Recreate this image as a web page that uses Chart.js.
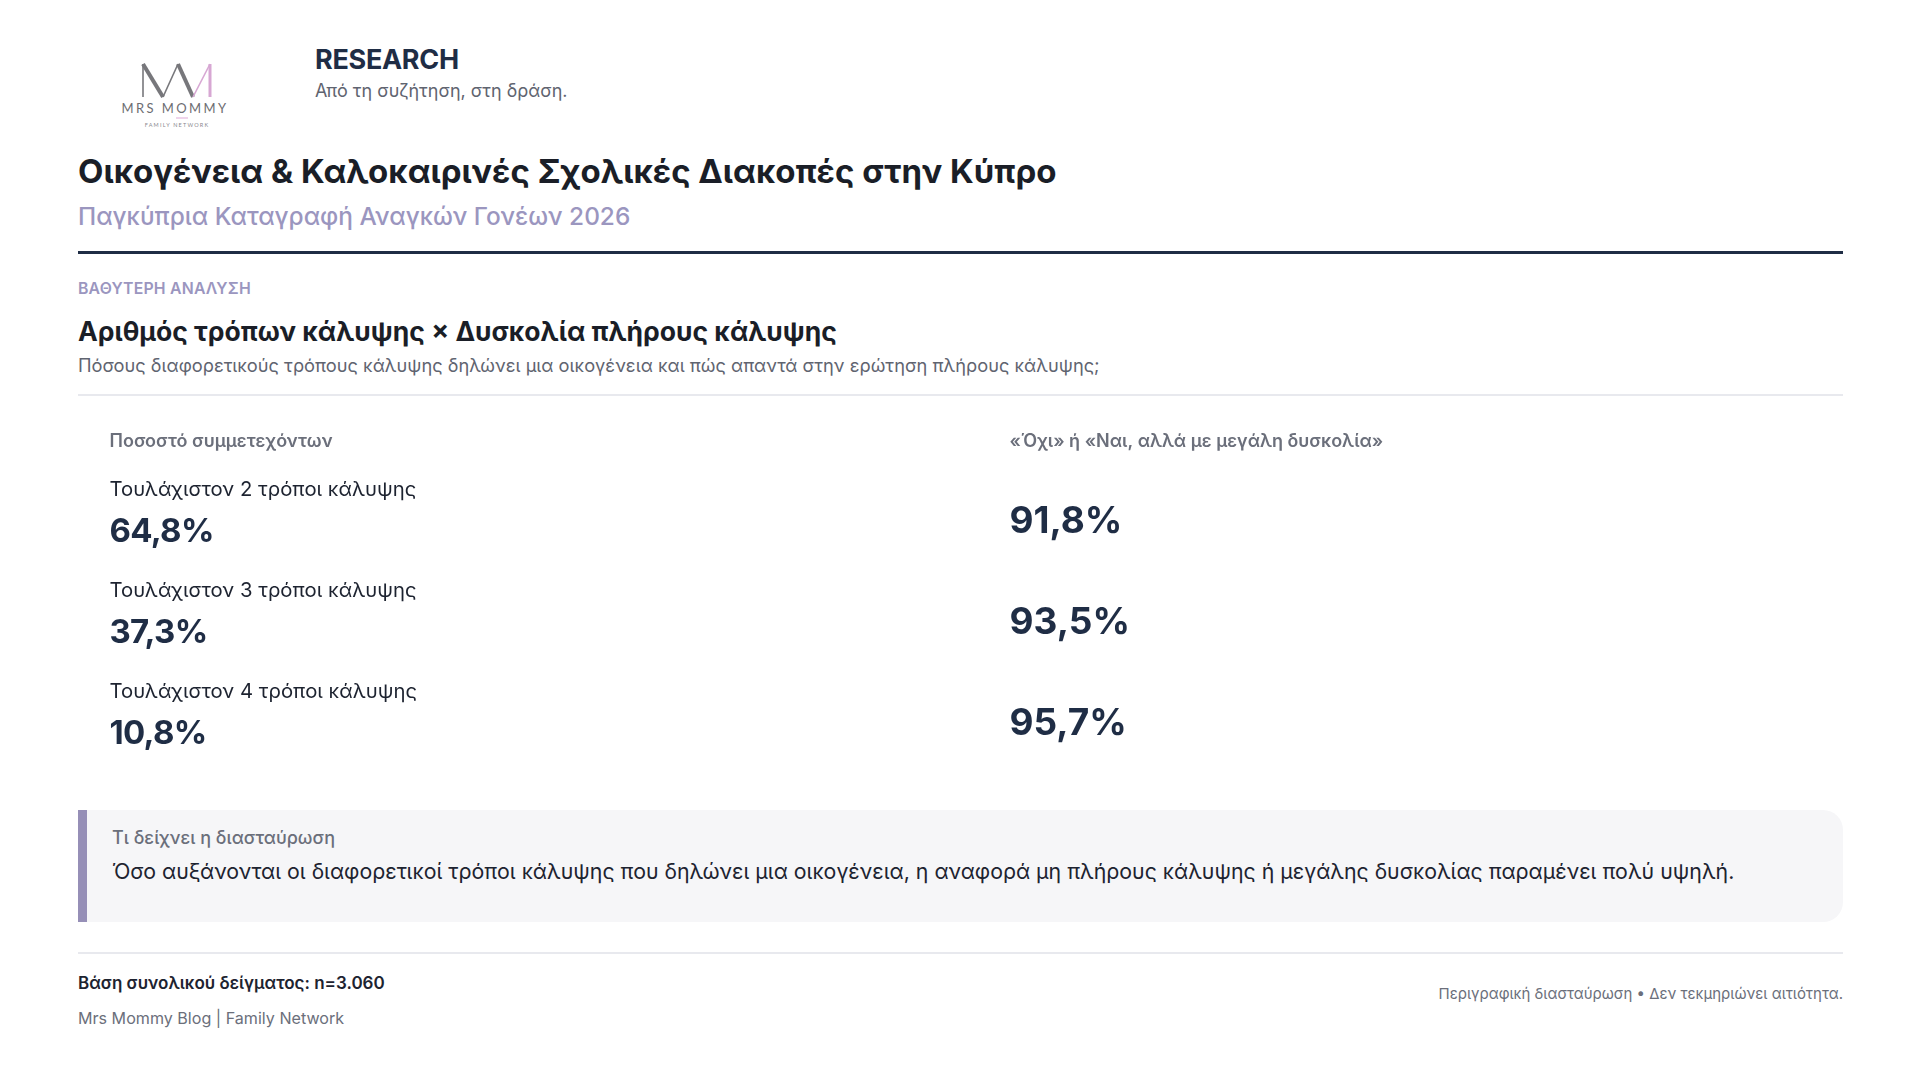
<!DOCTYPE html>
<html lang="el">
<head>
    <meta charset="UTF-8">
    <title>Αριθμός τρόπων κάλυψης × Δυσκολία πλήρους κάλυψης</title>
    <script src="https://cdn.jsdelivr.net/npm/chart.js"></script>
    <style>
        body {
            margin: 0;
            width: 1920px;
            height: 1080px;
            background: #ffffff;
            font-family: Inter, "Noto Sans", sans-serif;
            position: relative;
            overflow: hidden;
        }
        .abs {
            position: absolute;
            line-height: 1;
            white-space: nowrap;
        }
        .logo {
            position: absolute;
            left: 100px;
            top: 50px;
        }
        .brand {
            left: 315px;
            top: 46px;
            font-size: 27px;
            font-weight: 700;
            color: #1f2d45;
            letter-spacing: -0.3px;
        }
        .tagline {
            left: 315px;
            top: 81.5px;
            font-size: 18px;
            color: #5f6470;
        }
        .title {
            left: 78px;
            top: 155px;
            font-size: 33px;
            font-weight: 700;
            color: #1a1e27;
        }
        .subtitle {
            left: 78px;
            top: 203.5px;
            font-size: 24.4px;
            font-weight: 500;
            color: #9b96bf;
        }
        .rule {
            position: absolute;
            left: 78px;
            width: 1765px;
        }
        .rule.main { top: 251px; height: 3px; background: #1f2d45; }
        .rule.thin { top: 394px; height: 2px; background: #e8e9ee; }
        .rule.foot { top: 952px; height: 2px; background: #e8e9ee; }
        .kicker {
            left: 78px;
            top: 280.5px;
            font-size: 15.8px;
            font-weight: 600;
            color: #9b96bf;
            letter-spacing: 0.2px;
        }
        .heading {
            left: 78px;
            top: 317.5px;
            font-size: 26.5px;
            font-weight: 700;
            color: #1a1e27;
        }
        .desc {
            left: 78px;
            top: 356px;
            font-size: 18.25px;
            color: #5f6470;
        }
        .chart-box {
            position: absolute;
            left: 78px;
            top: 400px;
            width: 1842px;
            height: 380px;
        }
        .insight {
            position: absolute;
            left: 78px;
            top: 810px;
            width: 1756px;
            height: 112px;
            background: #f6f6f8;
            border-left: 9px solid #968fb7;
            border-radius: 0 20px 20px 0;
        }
        .insight-label {
            left: 112px;
            top: 828.5px;
            font-size: 18px;
            font-weight: 500;
            color: #6b6f7b;
        }
        .insight-text {
            left: 112px;
            top: 861px;
            font-size: 21.3px;
            color: #1d2330;
        }
        .base {
            left: 78px;
            top: 974.5px;
            font-size: 17px;
            font-weight: 600;
            color: #1d2330;
        }
        .source {
            left: 78px;
            top: 1010px;
            font-size: 16.1px;
            color: #6b6f7b;
        }
        .note {
            right: 77px;
            top: 986px;
            font-size: 15px;
            color: #6b6f7b;
        }
    </style>
</head>
<body>
    <svg class="logo" width="160" height="90" viewBox="0 0 160 90">
        <g fill="none" stroke-linecap="butt">
            <path d="M43 47 V14" stroke="#77777b" stroke-width="1.6"/>
            <path d="M43 14 L63 47" stroke="#77777b" stroke-width="4"/>
            <path d="M63 47 L78 14" stroke="#77777b" stroke-width="1.6"/>
            <path d="M78 14 L93 47" stroke="#77777b" stroke-width="4"/>
            <path d="M93 47 L110 14" stroke="#d7a7d3" stroke-width="1.6"/>
            <path d="M110 14 V47" stroke="#d7a7d3" stroke-width="3"/>
            <path d="M76 68 H88" stroke="#e5b8de" stroke-width="1.2"/>
        </g>
        <text x="75" y="63" text-anchor="middle" font-family="Lato, 'Open Sans', sans-serif" font-size="13" letter-spacing="2.4" fill="#6d6d72">MRS MOMMY</text>
        <text x="77" y="77" text-anchor="middle" font-family="Lato, 'Open Sans', sans-serif" font-size="5.5" letter-spacing="1.2" fill="#8a8a8f">FAMILY NETWORK</text>
    </svg>

    <div class="abs brand">RESEARCH</div>
    <div class="abs tagline">Από τη συζήτηση, στη δράση.</div>

    <div class="abs title">Οικογένεια &amp; Καλοκαιρινές Σχολικές Διακοπές στην Κύπρο</div>
    <div class="abs subtitle">Παγκύπρια Καταγραφή Αναγκών Γονέων 2026</div>
    <div class="rule main"></div>

    <div class="abs kicker">ΒΑΘΥΤΕΡΗ ΑΝΑΛΥΣΗ</div>
    <div class="abs heading">Αριθμός τρόπων κάλυψης × Δυσκολία πλήρους κάλυψης</div>
    <div class="abs desc">Πόσους διαφορετικούς τρόπους κάλυψης δηλώνει μια οικογένεια και πώς απαντά στην ερώτηση πλήρους κάλυψης;</div>
    <div class="rule thin"></div>

    <div class="chart-box">
        <canvas id="crossChart" width="1842" height="380"></canvas>
    </div>

    <div class="insight"></div>
    <div class="abs insight-label">Τι δείχνει η διασταύρωση</div>
    <div class="abs insight-text">Όσο αυξάνονται οι διαφορετικοί τρόποι κάλυψης που δηλώνει μια οικογένεια, η αναφορά μη πλήρους κάλυψης ή μεγάλης δυσκολίας παραμένει πολύ υψηλή.</div>

    <div class="rule foot"></div>
    <div class="abs base">Βάση συνολικού δείγματος: n=3.060</div>
    <div class="abs source">Mrs Mommy Blog | Family Network</div>
    <div class="abs note">Περιγραφική διασταύρωση • Δεν τεκμηριώνει αιτιότητα.</div>

    <script>
        // Δεδομένα
        const rowLabels = [
            'Τουλάχιστον 2 τρόποι κάλυψης',
            'Τουλάχιστον 3 τρόποι κάλυψης',
            'Τουλάχιστον 4 τρόποι κάλυψης'
        ];
        const columnLabels = [
            'Ποσοστό συμμετεχόντων',
            '«Όχι» ή «Ναι, αλλά με μεγάλη δυσκολία»'
        ];
        const participantShare = [64.8, 37.3, 10.8];
        const difficultyShare = [91.8, 93.5, 95.7];

        // Ελληνική μορφή αριθμού: 64,8%
        function formatPct(v) {
            return v.toFixed(1).replace('.', ',') + '%';
        }

        // Γράφει τις τιμές στη θέση κάθε σημείου
        const valueLabels = {
            id: 'valueLabels',
            afterDatasetsDraw(chart) {
                const ctx = chart.ctx;
                const xScale = chart.scales.x;
                const colWidth = xScale.width / columnLabels.length;
                ctx.save();
                ctx.textAlign = 'left';
                ctx.textBaseline = 'alphabetic';

                // επικεφαλίδες στηλών
                ctx.font = '600 18px Inter';
                ctx.fillStyle = '#6b6f7b';
                columnLabels.forEach((label, i) => {
                    ctx.fillText(label, xScale.getPixelForValue(i) - colWidth / 2, chart.chartArea.top - 22);
                });

                chart.data.datasets.forEach((ds, di) => {
                    chart.getDatasetMeta(di).data.forEach((pt, i) => {
                        const left = pt.x - colWidth / 2;
                        if (di === 0) {
                            ctx.letterSpacing = '0px';
                            ctx.font = '400 20.3px Inter';
                            ctx.fillStyle = '#1d2330';
                            ctx.fillText(rowLabels[i], left, pt.y - 23);
                            ctx.letterSpacing = '-0.7px';
                            ctx.font = '700 33px Inter';
                            ctx.fillStyle = '#1f2d45';
                            ctx.fillText(formatPct(ds.values[i]), left, pt.y + 23);
                        } else {
                            ctx.letterSpacing = '0px';
                            ctx.font = '700 37px Inter';
                            ctx.fillStyle = '#1f2d45';
                            ctx.fillText(formatPct(ds.values[i]), left, pt.y + 14);
                        }
                    });
                });
                ctx.restore();
            }
        };

        new Chart(document.getElementById('crossChart'), {
            type: 'scatter',
            data: {
                datasets: [
                    {
                        label: columnLabels[0],
                        values: participantShare,
                        data: participantShare.map((v, i) => ({ x: columnLabels[0], y: rowLabels[i] })),
                        pointRadius: 0
                    },
                    {
                        label: columnLabels[1],
                        values: difficultyShare,
                        data: difficultyShare.map((v, i) => ({ x: columnLabels[1], y: rowLabels[i] })),
                        pointRadius: 0
                    }
                ]
            },
            options: {
                responsive: false,
                animation: false,
                layout: { padding: { left: 31.5, right: 10.5, top: 69, bottom: 9 } },
                scales: {
                    x: { type: 'category', labels: columnLabels, offset: true, display: false },
                    y: { type: 'category', labels: rowLabels, offset: true, display: false }
                },
                plugins: {
                    legend: { display: false },
                    tooltip: { enabled: false }
                }
            },
            plugins: [valueLabels]
        });
    </script>
</body>
</html>
